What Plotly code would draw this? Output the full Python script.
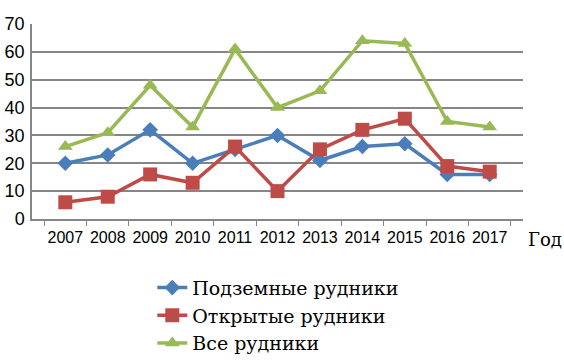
import plotly.graph_objects as go

years = ["2007", "2008", "2009", "2010", "2011", "2012", "2013", "2014", "2015", "2016", "2017"]
underground = [20, 23, 32, 20, 25, 30, 21, 26, 27, 16, 16]
open_pit = [6, 8, 16, 13, 26, 10, 25, 32, 36, 19, 17]
all_mines = [26, 31, 48, 33, 61, 40, 46, 64, 63, 35, 33]
y_ticks = [0, 10, 20, 30, 40, 50, 60, 70]

names = ["Подземные рудники", "Открытые рудники", "Все рудники"]
colors = ["#4a7ebb", "#be4b48", "#98b954"]
symbols = ["diamond", "square", "triangle-up"]
sizes = [12, 14, 13]

fig = go.Figure()
for vals, name, c, s, sz in zip([underground, open_pit, all_mines], names, colors, symbols, sizes):
    fig.add_trace(go.Scatter(
        x=years, y=vals, name=name, mode="lines+markers",
        line=dict(color=c, width=3.5),
        marker=dict(symbol=s, size=sz, color=c),
    ))

tick_font = dict(family="Liberation Sans", size=16, color="#000000")
serif = "DejaVu Serif"

fig.update_layout(
    width=564, height=362,
    margin=dict(l=32, r=41, t=24, b=143, autoexpand=False),
    paper_bgcolor="white", plot_bgcolor="white",
    showlegend=True,
    legend=dict(
        x=0.245, y=-0.255, xanchor="left", yanchor="top",
        font=dict(family=serif, size=19, color="#000000"),
        tracegroupgap=0, itemwidth=30,
        bgcolor="rgba(0,0,0,0)",
    ),
    xaxis=dict(
        type="category", tickson="boundaries", ticks="outside", ticklen=5,
        tickcolor="#868686", showline=True, linecolor="#868686", linewidth=1.5,
        showgrid=False, tickfont=tick_font, tickangle=0, fixedrange=True,
        automargin=False, ticklabelstandoff=3,
    ),
    yaxis=dict(
        range=[0, 70], tickvals=y_ticks, showgrid=True, gridcolor="#868686", gridwidth=1.5,
        showline=True, linecolor="#868686", linewidth=1.5, zeroline=False,
        ticks="", tickfont=dict(family="Liberation Sans", size=18, color="#000000"),
        ticklabelstandoff=2, automargin=False, fixedrange=True,
    ),
)

fig.add_annotation(
    text="Год", xref="paper", yref="paper", x=1.006, y=-0.105,
    xanchor="left", yanchor="middle", showarrow=False,
    font=dict(family=serif, size=18, color="#000000"),
)

fig.write_html("out.html", config={"displayModeBar": False},
               post_script="document.body.style.margin='0';")
